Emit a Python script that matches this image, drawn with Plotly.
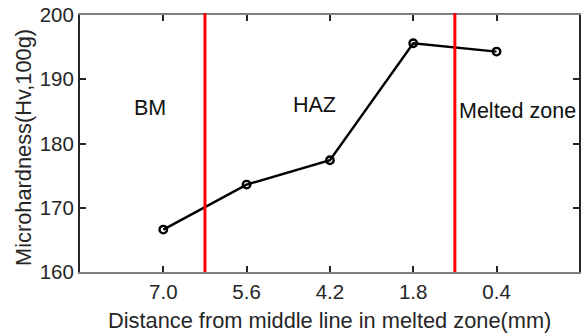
import plotly.graph_objects as go

categories = ["7.0", "5.6", "4.2", "1.8", "0.4"]
hardness = [166.6, 173.6, 177.4, 195.6, 194.3]
zone_boundaries = [0.5, 3.5]
zone_labels = ["BM", "HAZ", "Melted zone"]
y_ticks = [160, 170, 180, 190, 200]

FONT = "Liberation Sans, Arial, sans-serif"

fig = go.Figure()
fig.add_trace(go.Scatter(
    x=categories, y=hardness, mode="lines+markers",
    line=dict(color="black", width=2.4),
    marker=dict(symbol="circle-open", size=7.5, color="black", line=dict(width=2.4)),
    showlegend=False,
))

for xb in zone_boundaries:
    fig.add_shape(type="line", xref="x", yref="paper", x0=xb, x1=xb, y0=0, y1=1.008,
                  line=dict(color="#ff0000", width=3), layer="above")

# zone labels (positions in data coords)
label_pos = [(-0.16, 185.6, "center"), (1.82, 186.0, "center"), (3.53, 185.0, "left")]
for (xp, yp, anc), txt in zip(label_pos, zone_labels):
    fig.add_annotation(x=xp, y=yp, xref="x", yref="y", text=txt, showarrow=False,
                       xanchor=anc, yanchor="middle",
                       font=dict(family=FONT, size=21.5, color="#111111"))

fig.add_annotation(x=0.5, y=-0.19, xref="paper", yref="paper", xanchor="center", yanchor="middle",
                   text="Distance from middle line in melted zone(mm)", showarrow=False,
                   font=dict(family=FONT, size=21.8, color="#262626"))
fig.add_annotation(x=-0.113, y=0.485, xref="paper", yref="paper", xanchor="center", yanchor="middle",
                   text="Microhardness(Hv,100g)", showarrow=False, textangle=-90,
                   font=dict(family=FONT, size=21.8, color="#262626"))

fig.update_layout(
    width=581, height=335,
    margin=dict(l=80, r=0, t=15, b=63),
    paper_bgcolor="white", plot_bgcolor="white",
    font=dict(family=FONT, size=20.5, color="#262626"),
)
fig.update_xaxes(
    type="category", categoryorder="array", categoryarray=categories,
    range=[-1, 4.99],
    showgrid=False, zeroline=False,
    showline=True, linecolor="#808080", linewidth=2, mirror="ticks",
    ticks="inside", ticklen=6, tickwidth=2, tickcolor="#262626",
    tickfont=dict(family=FONT, size=20.5, color="#262626"),
)
fig.update_yaxes(
    range=[160, 200], tickvals=y_ticks,
    showgrid=False, zeroline=False,
    showline=True, linecolor="#262626", linewidth=2, mirror="ticks",
    ticks="inside", ticklen=6, tickwidth=2, tickcolor="#262626",
    tickfont=dict(family=FONT, size=20.5, color="#262626"),
)

fig.write_html("out.html")
